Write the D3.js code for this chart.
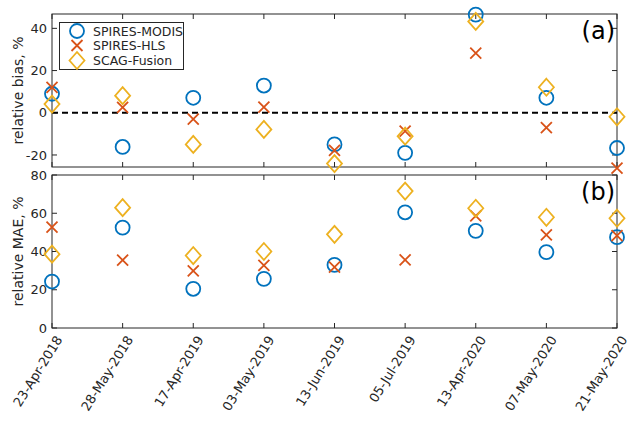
<!DOCTYPE html>
<html>
<head>
<meta charset="utf-8">
<script src="https://cdn.jsdelivr.net/npm/d3@7"></script>
<style>
  body { margin: 0; background: #fff; }
  svg text { font-family: "DejaVu Sans", sans-serif; fill: #262626; }
</style>
</head>
<body>
<svg></svg>
<script>
// dates of the scenes
var dates = ["23-Apr-2018", "28-May-2018", "17-Apr-2019", "03-May-2019", "13-Jun-2019",
    "05-Jul-2019", "13-Apr-2020", "07-May-2020", "21-May-2020"];

// relative bias, %
var biasModis = [9, -16.2, 7.1, 12.9, -15, -19, 46.5, 7.1, -16.7];
var biasHls = [12, 2.6, -3, 2.7, -17.8, -8.7, 28.3, -7, -26.2];
var biasScag = [4.1, 8.1, -15, -7.9, -24.1, -11.1, 43.3, 12.1, -1.9];

// relative MAE, %
var maeModis = [24.3, 52.5, 20.5, 25.7, 33, 60.5, 50.8, 39.7, 47.5];
var maeHls = [52.7, 35.5, 29.9, 32.7, 31.8, 35.6, 58.6, 48.7, 48.3];
var maeScag = [38.6, 62.9, 37.9, 40, 49, 71.6, 62.6, 57.9, 57.4];

var seriesNames = ["SPIRES-MODIS", "SPIRES-HLS", "SCAG-Fusion"];
var colors = ["#0072BD", "#D95319", "#EDB120"];
var shapes = ["circle", "cross", "diamond"];

var biasTicks = [-20, 0, 20, 40];
var maeTicks = [0, 20, 40, 60, 80];

var width = 634, height = 424;
var axisColor = "#262626";
var svg = d3.select('svg')
    .attr('width', width)
    .attr('height', height);

var left = 52, right = 617;
var x = d3.scaleLinear().domain([0, dates.length - 1]).range([left, right]);

// draw one marker of a given shape
function drawMarker(g, shape, cx, cy, color) {
    if (shape === "circle") {
        g.append('circle').attr('cx', cx).attr('cy', cy).attr('r', 7)
            .attr('fill', 'none').attr('stroke', color).attr('stroke-width', 1.8);
    } else if (shape === "cross") {
        var s = 5.5;
        g.append('path')
            .attr('d', `M${cx - s},${cy - s}L${cx + s},${cy + s}M${cx - s},${cy + s}L${cx + s},${cy - s}`)
            .attr('stroke', color).attr('stroke-width', 1.8).attr('fill', 'none');
    } else {
        var w = 7.5, h = 8.5;
        g.append('path')
            .attr('d', `M${cx},${cy - h}L${cx + w},${cy}L${cx},${cy + h}L${cx - w},${cy}Z`)
            .attr('stroke', color).attr('stroke-width', 1.8).attr('fill', 'none');
    }
}

function drawPanel(top, bottom, domain, ticks, series, yLabel, panelLabel, baseline, showDates) {
    var y = d3.scaleLinear().domain(domain).range([bottom, top]);
    var g = svg.append('g');

    // box
    g.append('rect').attr('x', left).attr('y', top)
        .attr('width', right - left).attr('height', bottom - top)
        .attr('fill', 'none').attr('stroke', axisColor).attr('stroke-width', 1);

    // ticks inside on all four sides
    var tl = 5;
    d3.range(dates.length).forEach(function (i) {
        g.append('line').attr('x1', x(i)).attr('x2', x(i)).attr('y1', bottom).attr('y2', bottom - tl)
            .attr('stroke', axisColor);
        g.append('line').attr('x1', x(i)).attr('x2', x(i)).attr('y1', top).attr('y2', top + tl)
            .attr('stroke', axisColor);
    });
    ticks.forEach(function (t) {
        g.append('line').attr('x1', left).attr('x2', left + tl).attr('y1', y(t)).attr('y2', y(t))
            .attr('stroke', axisColor);
        g.append('line').attr('x1', right).attr('x2', right - tl).attr('y1', y(t)).attr('y2', y(t))
            .attr('stroke', axisColor);
        g.append('text').attr('x', left - 5).attr('y', y(t)).attr('dy', '0.36em')
            .attr('text-anchor', 'end').attr('font-size', 13).text(t);
    });

    if (baseline) {
        g.append('line').attr('x1', left).attr('x2', right).attr('y1', y(0)).attr('y2', y(0))
            .attr('stroke', '#000').attr('stroke-width', 2).attr('stroke-dasharray', '6,4');
    }

    // y label
    g.append('text')
        .attr('transform', `translate(23,${(top + bottom) / 2}) rotate(-90)`)
        .attr('text-anchor', 'middle').attr('font-size', 14).text(yLabel);

    // panel label
    g.append('text').attr('x', right - 2).attr('y', top + 25)
        .attr('text-anchor', 'end').attr('font-size', 24).style('fill', '#000').text(panelLabel);

    // markers
    series.forEach(function (vals, k) {
        vals.forEach(function (v, i) {
            drawMarker(g, shapes[k], x(i), y(v), colors[k]);
        });
    });

    if (showDates) {
        dates.forEach(function (d, i) {
            g.append('text')
                .attr('transform', `translate(${x(i) + 7},${bottom + 9}) rotate(-58)`)
                .attr('text-anchor', 'end').attr('dy', '0.36em').attr('font-size', 13).text(d);
        });
    }
    return g;
}

drawPanel(14, 167, [-25.7, 46.8], biasTicks, [biasModis, biasHls, biasScag],
    "relative bias, %", "(a)", true, false);
drawPanel(175, 328, [0, 80], maeTicks, [maeModis, maeHls, maeScag],
    "relative MAE, %", "(b)", false, true);

// legend
var legend = svg.append('g');
legend.append('rect').attr('x', 59.5).attr('y', 22.5).attr('width', 124).attr('height', 47)
    .attr('fill', '#fff').attr('stroke', axisColor).attr('stroke-width', 1);
var legendRows = [31, 45.5, 60.5];
seriesNames.forEach(function (name, k) {
    drawMarker(legend, shapes[k], 77, legendRows[k], colors[k]);
    legend.append('text').attr('x', 93).attr('y', legendRows[k]).attr('dy', '0.36em')
        .attr('font-size', 12.5).text(name);
});
</script>
</body>
</html>
